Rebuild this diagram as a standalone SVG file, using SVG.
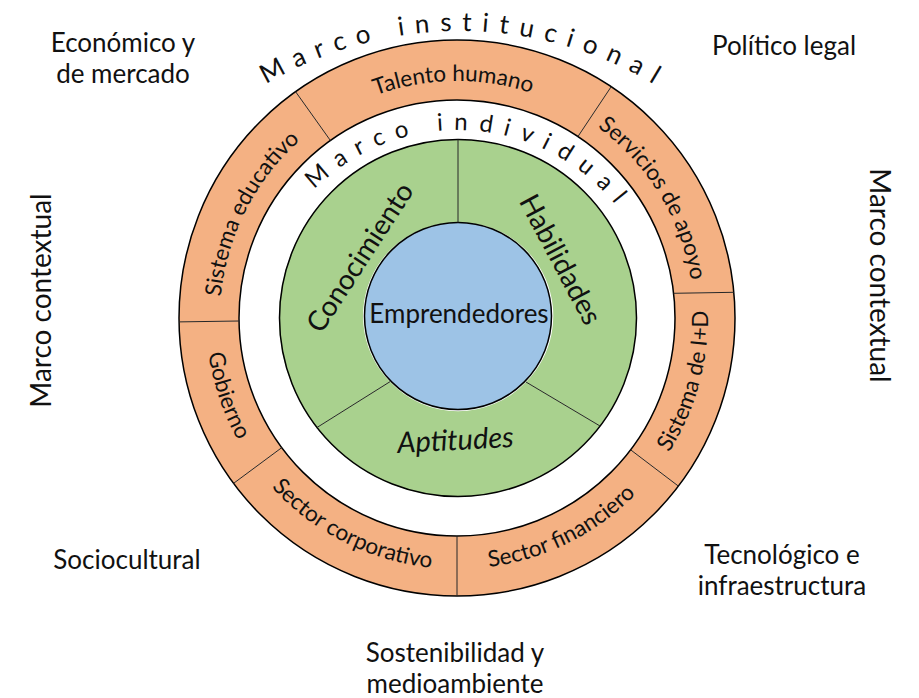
<svg xmlns="http://www.w3.org/2000/svg" xmlns:xlink="http://www.w3.org/1999/xlink" width="919" height="698" viewBox="0 0 919 698">
<style>
  text{font-family:Lato,"Open Sans","Liberation Sans",sans-serif;font-weight:400;fill:#111}
  .corner{font-size:26px;text-anchor:middle}
  .ring{font-size:22.5px}
  .ctr{font-size:28px;text-anchor:middle}
  .orange{fill:#F4B183}
  .green{fill:#A9D18E}
  .edge{fill:none;stroke:#000;stroke-width:1.5}
  .div{stroke:#262626;stroke-width:1;fill:none}
</style>
<defs>
  <path id="arcTalento" d="M319.4,125.1 A237,237 0 0 1 588.5,120.8"/>
  <path id="arcEduc" d="M220,321.3 A237,237 0 0 1 319.4,125.1"/>
  <path id="arcServ" d="M588.5,120.8 A237,237 0 0 1 692.5,291.2"/>
  <path id="arcGob" d="M206,321.5 A251,251 0 0 0 255.2,467.3"/>
  <path id="arcCorp" d="M255.2,467.3 A251,251 0 0 0 457,569"/>
  <path id="arcFin" d="M457,569 A251,251 0 0 0 656.9,469.8"/>
  <path id="arcID" d="M656.9,469.8 A251,251 0 0 0 706.4,289.6"/>
  <path id="arcIndiv" d="M255,333 A203,203 0 0 1 661,333"/>
  <path id="arcInst" d="M81,410 A379,379 0 0 1 839,410"/>
</defs>

<!-- Marco institucional ring segments -->
<g id="talento-humano">
  <path class="orange" d="M295.6,91.7 A278,278 0 0 1 611.2,86.7 L577.9,136.6 A218,218 0 0 0 330.4,140.5 Z"/>
  <text class="ring"><textPath xlink:href="#arcTalento" startOffset="50%" text-anchor="middle">Talento humano</textPath></text>
</g>
<g id="sistema-educativo">
  <path class="orange" d="M179,321.9 A278,278 0 0 1 295.6,91.7 L330.4,140.5 A218,218 0 0 0 239,321 Z"/>
  <text class="ring"><textPath xlink:href="#arcEduc" startOffset="50%" text-anchor="middle">Sistema educativo</textPath></text>
</g>
<g id="servicios-de-apoyo">
  <path class="orange" d="M611.2,86.7 A278,278 0 0 1 733.8,292.3 L673.6,293.3 A218,218 0 0 0 577.9,136.6 Z"/>
  <text class="ring"><textPath xlink:href="#arcServ" startOffset="50%" text-anchor="middle">Servicios de apoyo</textPath></text>
</g>
<g id="sistema-id">
  <path class="orange" d="M733.8,292.3 A278,278 0 0 1 678.4,486.1 L630.6,449.8 A218,218 0 0 0 673.6,293.3 Z"/>
  <text class="ring"><textPath xlink:href="#arcID" startOffset="50%" text-anchor="middle">Sistema de I+D</textPath></text>
</g>
<g id="sector-financiero">
  <path class="orange" d="M678.4,486.1 A278,278 0 0 1 457,596 L457,536 A218,218 0 0 0 630.6,449.8 Z"/>
  <text class="ring"><textPath xlink:href="#arcFin" startOffset="50%" text-anchor="middle">Sector financiero</textPath></text>
</g>
<g id="sector-corporativo">
  <path class="orange" d="M457,596 A278,278 0 0 1 233.5,483.4 L281.7,447.7 A218,218 0 0 0 457,536 Z"/>
  <text class="ring"><textPath xlink:href="#arcCorp" startOffset="50%" text-anchor="middle">Sector corporativo</textPath></text>
</g>
<g id="gobierno">
  <path class="orange" d="M233.5,483.4 A278,278 0 0 1 179,321.9 L239,321 A218,218 0 0 0 281.7,447.7 Z"/>
  <text class="ring"><textPath xlink:href="#arcGob" startOffset="50%" text-anchor="middle">Gobierno</textPath></text>
</g>

<!-- Marco individual segments -->
<g id="conocimiento">
  <path class="green" d="M458,139.5 A178.5,178.5 0 0 0 316.7,427.7 L390,381.7 A93.5,93.5 0 0 1 458,222.5 Z"/>
  <text class="ctr" transform="translate(368,262.6) rotate(-57)">Conocimiento</text>
</g>
<g id="habilidades">
  <path class="green" d="M458,139.5 A178.5,178.5 0 0 1 600,426 L526,382 A93.5,93.5 0 0 0 458,222.5 Z"/>
  <text class="ctr" transform="translate(552,264) rotate(62)">Habilidades</text>
</g>
<g id="aptitudes">
  <path class="green" d="M316.7,427.7 A178.5,178.5 0 0 0 600,426 L526,382 A93.5,93.5 0 0 1 390,381.7 Z"/>
  <text class="ctr" style="font-size:29px" font-style="italic" transform="translate(456,450) rotate(-3)">Aptitudes</text>
</g>

<g id="emprendedores">
  <circle cx="458" cy="316" r="93.5" fill="#9DC3E6" stroke="#000" stroke-width="1.5"/>
  <text class="ctr" style="font-size:26px" x="459" y="322.7">Emprendedores</text>
</g>

<!-- outlines and dividers -->
<g id="dividers">
  <circle class="edge" cx="457" cy="318" r="278"/>
  <circle class="edge" cx="457" cy="318" r="218"/>
  <circle class="edge" cx="458" cy="318" r="178.5"/>
  <line class="div" x1="295.6" y1="91.7" x2="330.4" y2="140.5"/>
  <line class="div" x1="611.2" y1="86.7" x2="577.9" y2="136.6"/>
  <line class="div" x1="733.8" y1="292.3" x2="673.6" y2="293.3"/>
  <line class="div" x1="678.4" y1="486.1" x2="630.6" y2="449.8"/>
  <line class="div" x1="457" y1="596" x2="457" y2="536"/>
  <line class="div" x1="233.5" y1="483.4" x2="281.7" y2="447.7"/>
  <line class="div" x1="179" y1="321.9" x2="239" y2="321"/>
  <line class="div" x1="458" y1="139.5" x2="458" y2="222.5"/>
  <line class="div" x1="390" y1="381.7" x2="316.7" y2="427.7"/>
  <line class="div" x1="526" y1="382" x2="600" y2="426"/>
</g>

<g id="marco-individual">
  <text style="font-size:24px;letter-spacing:11px"><textPath xlink:href="#arcIndiv" startOffset="334" text-anchor="middle">Marco individual</textPath></text>
</g>
<g id="marco-institucional">
  <text style="font-size:26px;letter-spacing:10.5px"><textPath xlink:href="#arcInst" startOffset="600" text-anchor="middle">Marco institucional</textPath></text>
</g>

<g id="economico">
  <text class="corner" x="123" y="52">Económico y</text>
  <text class="corner" x="123" y="83">de mercado</text>
</g>
<g id="politico">
  <text class="corner" x="784" y="55">Político legal</text>
</g>
<g id="sociocultural">
  <text class="corner" x="127" y="569">Sociocultural</text>
</g>
<g id="tecnologico">
  <text class="corner" x="782" y="564">Tecnológico e</text>
  <text class="corner" x="782" y="595">infraestructura</text>
</g>
<g id="sostenibilidad">
  <text class="corner" x="455" y="662">Sostenibilidad y</text>
  <text class="corner" x="455" y="693">medioambiente</text>
</g>
<g id="marco-contextual-izq">
  <text class="corner" style="font-size:28px" transform="translate(51,300.5) rotate(-90)">Marco contextual</text>
</g>
<g id="marco-contextual-der">
  <text class="corner" style="font-size:28px" transform="translate(870,275.5) rotate(90)">Marco contextual</text>
</g>
</svg>
